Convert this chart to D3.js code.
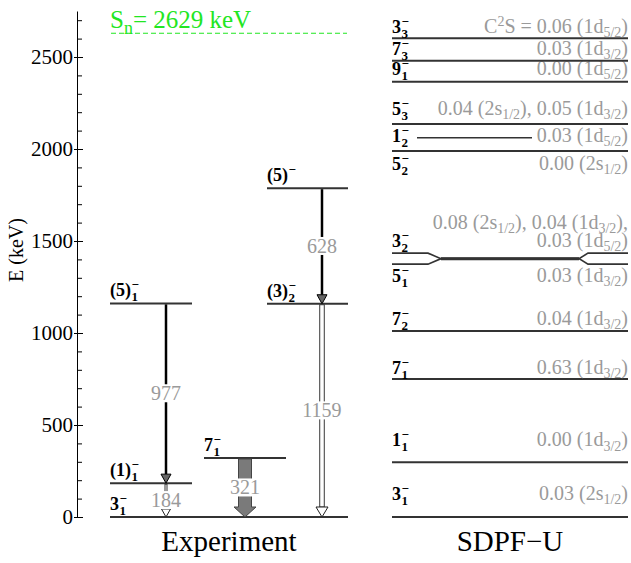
<!DOCTYPE html>
<html><head><meta charset="utf-8">
<script src="https://cdn.jsdelivr.net/npm/d3@7"></script>
<style>
body{margin:0;background:#fff}
svg{display:block}
text{font-family:"Liberation Serif","Times New Roman",serif}
</style>
</head><body>
<svg id="chart" width="631" height="563"></svg>
<script>
// ---------------- data ----------------
const yTickValues = [0, 500, 1000, 1500, 2000, 2500];
const yMinorTickValues = d3.range(0, 2701, 100);
const yAxisTitle = "E (keV)";
const sepEnergy = 2629;
const sepText = "S_{n}= 2629 keV";
const columnTitles = ["Experiment", "SDPF\u2212U"];

const expLevelSpin   = ["3", "(1)", "7", "(5)", "(3)", "(5)"];
const expLevelIdx    = ["1", "1", "1", "1", "2", ""];
const expLevelEnergy = [0, 184, 321, 1161, 1159, 1787];

const gammaEnergy = [977, 184, 321, 628, 1159];
const gammaFrom   = [1161, 184, 321, 1787, 1159];
const gammaTo     = [184, 0, 0, 1159, 0];
const gammaKind   = ["line", "openThin", "fat", "line", "open"];

const thLevelSpin   = ["3", "1", "7", "7", "5", "3", "5", "1", "5", "9", "7", "3"];
const thLevelIdx    = ["1", "1", "1", "2", "1", "2", "2", "2", "3", "1", "3", "3"];
const thLevelEnergy = [0, 297, 750, 1011, 1403, 1405, 1989, 2061, 2136, 2366, 2480, 2602];
const thSpecFactor  = [
  ["0.03 (2s_{1/2})"],
  ["0.00 (1d_{3/2})"],
  ["0.63 (1d_{3/2})"],
  ["0.04 (1d_{3/2})"],
  ["0.03 (1d_{3/2})"],
  ["0.08 (2s_{1/2}), 0.04 (1d_{3/2}),", "0.03 (1d_{5/2})"],
  ["0.00 (2s_{1/2})"],
  ["0.03 (1d_{5/2})"],
  ["0.04 (2s_{1/2}), 0.05 (1d_{3/2})"],
  ["0.00 (1d_{5/2})"],
  ["0.03 (1d_{3/2})"],
  ["C^{2}S = 0.06 (1d_{5/2})"]
];

// ---------------- layout ----------------
const svg = d3.select("#chart");
const y = d3.scaleLinear().domain([0, 2750]).range([517, 11]);
const axisX = 77;
const expX = [[110, 348], [110, 192], [204, 286], [110, 192], [267, 348], [267, 348]];
const gammaX = [166, 166, 245, 322, 322];
const thX0 = 392, thX1 = 628;
const thLabOff = [-17, -16, -5, -6, 18, -6, 19, 4, -9, -7, -6, -5];
const lineColor = "#333";
const grey = "#9a9a9a";
const green = "#22e622";

// ---------------- helpers ----------------
function richText(sel, str, size, subSize, x, dyFirst) {
  const parts = str.split(/(_\{[^}]*\}|\^\{[^}]*\})/).filter(s => s.length);
  let off = 0;
  parts.forEach((p, k) => {
    let target = 0, txt = p, fs = size;
    if (p.startsWith("_{")) { target = subSize * 0.3; txt = p.slice(2, -1); fs = subSize; }
    else if (p.startsWith("^{")) { target = -size * 0.38; txt = p.slice(2, -1); fs = subSize; }
    const ts = sel.append("tspan").attr("dy", target - off + (k === 0 && dyFirst ? dyFirst : 0)).attr("font-size", fs).text(txt);
    if (k === 0 && x !== undefined) ts.attr("x", x);
    off = target;
  });
  return off;
}

function levelLabel(g, x, yb, main, idx) {
  const size = 18, sub = 13;
  const t = g.append("text").attr("x", x).attr("y", yb)
    .attr("font-weight", "bold").attr("font-size", size).attr("fill", "#000");
  const m = t.append("tspan").text(main);
  const w = m.node().getComputedTextLength();
  t.append("tspan").attr("x", x + w + 0.5).attr("dy", -7).attr("font-size", sub).text("\u2212");
  if (idx) t.append("tspan").attr("x", x + w + 0.5).attr("dy", 12).attr("font-size", sub).text(idx);
}

// ---------------- axis ----------------
const axG = svg.append("g").attr("transform", `translate(${axisX},0)`);
axG.call(d3.axisLeft(y).tickValues(yTickValues).tickFormat(d3.format("d")).tickSizeInner(3).tickSizeOuter(0).tickPadding(1))
  .attr("font-family", null)
  .call(g => g.selectAll("text").attr("font-size", 21).attr("font-family", "Liberation Serif").attr("fill", "#000"))
  .call(g => g.selectAll("line,path").attr("stroke", "#000"));
svg.append("g").attr("transform", `translate(${axisX},0)`)
  .call(d3.axisRight(y).tickValues(yTickValues).tickSize(6).tickFormat(""))
  .call(g => g.select(".domain").remove());
svg.append("g").attr("transform", `translate(${axisX},0)`)
  .call(d3.axisRight(y).tickValues(yMinorTickValues.filter(v => !yTickValues.includes(v))).tickSize(5).tickFormat(""))
  .call(g => g.select(".domain").remove());

svg.append("text").attr("transform", `translate(23,250) rotate(-90)`)
  .attr("text-anchor", "middle").attr("font-size", 20).text(yAxisTitle);

// ---------------- separation energy ----------------
svg.append("line").attr("x1", 111).attr("x2", 347).attr("y1", y(sepEnergy)).attr("y2", y(sepEnergy))
  .attr("stroke", green).attr("stroke-width", 1.2).attr("stroke-dasharray", "5,3");
richText(svg.append("text").attr("x", 110).attr("y", y(sepEnergy) - 5).attr("fill", green), sepText, 25, 18);

// ---------------- experiment levels ----------------
const expG = svg.append("g");
expLevelEnergy.forEach((e, i) => {
  expG.append("line").attr("x1", expX[i][0]).attr("x2", expX[i][1])
    .attr("y1", y(e)).attr("y2", y(e)).attr("stroke", lineColor).attr("stroke-width", 2);
  levelLabel(expG, expX[i][0], y(e) - 7, expLevelSpin[i], expLevelIdx[i]);
});

// ---------------- gamma transitions ----------------
const gG = svg.append("g");
gammaEnergy.forEach((eg, i) => {
  const x = gammaX[i], y0 = y(gammaFrom[i]) + 1, y1 = y(gammaTo[i]);
  const k = gammaKind[i];
  if (k === "line") {
    const hh = 9, hw = 5;
    gG.append("line").attr("x1", x).attr("x2", x).attr("y1", y0).attr("y2", y1 - hh)
      .attr("stroke", "#000").attr("stroke-width", 2.5);
    gG.append("path").attr("d", `M${x - hw},${y1 - hh}L${x + hw},${y1 - hh}L${x},${y1}Z`)
      .attr("fill", "#666").attr("stroke", "#000").attr("stroke-width", 1);
  } else if (k === "openThin" || k === "open") {
    const bw = k === "open" ? 4.5 : 2, hh = k === "open" ? 10 : 8, hw = k === "open" ? 6 : 4.5;
    gG.append("rect").attr("x", x - bw / 2).attr("y", y0).attr("width", bw).attr("height", y1 - hh - y0)
      .attr("fill", "#fff").attr("stroke", "#222").attr("stroke-width", 0.9);
    gG.append("path").attr("d", `M${x - hw},${y1 - hh}L${x + hw},${y1 - hh}L${x},${y1}Z`)
      .attr("fill", "#fff").attr("stroke", "#222").attr("stroke-width", 1);
  } else {
    const bw = 13, hh = 10, hw = 11;
    gG.append("path").attr("d",
      `M${x - bw / 2},${y0}L${x + bw / 2},${y0}L${x + bw / 2},${y1 - hh}L${x + hw},${y1 - hh}L${x},${y1}L${x - hw},${y1 - hh}L${x - bw / 2},${y1 - hh}Z`)
      .attr("fill", "#7a7a7a").attr("stroke", "#444").attr("stroke-width", 1);
  }
  const ym = (y(gammaFrom[i]) + y(gammaTo[i])) / 2;
  const lg = gG.append("g");
  const r = lg.append("rect").attr("fill", "#fff");
  const t = lg.append("text").attr("x", x).attr("y", ym + 7).attr("text-anchor", "middle")
    .attr("font-size", 20).attr("fill", grey).text(eg);
  const bb = t.node().getBBox();
  r.attr("x", bb.x - 1).attr("y", ym - 9).attr("width", bb.width + 2).attr("height", 18);
});

// ---------------- SDPF-U levels ----------------
const thG = svg.append("g");
const iA = 4, iB = 5; // near-degenerate pair
const yMid = y((thLevelEnergy[iA] + thLevelEnergy[iB]) / 2);
const split = 5.5;
thLevelEnergy.forEach((e, i) => {
  let yl = y(e);
  if (i === iA) yl = yMid + split;
  if (i === iB) yl = yMid - split;
  if (i === iA || i === iB) {
    const pts = [[thX0, yl], [428, yl], [441, yMid], [579, yMid], [588, yl], [thX1, yl]];
    thG.append("path").attr("d", d3.line()(pts)).attr("fill", "none")
      .attr("stroke", lineColor).attr("stroke-width", 1.6);
  } else if (thLevelSpin[i] === "1" && thLevelIdx[i] === "2") {
    thG.append("line").attr("x1", 417).attr("x2", 532).attr("y1", yl).attr("y2", yl)
      .attr("stroke", lineColor).attr("stroke-width", 1.6);
  } else {
    thG.append("line").attr("x1", thX0).attr("x2", thX1).attr("y1", yl).attr("y2", yl)
      .attr("stroke", lineColor).attr("stroke-width", 2);
  }
  const yb = yl + thLabOff[i];
  levelLabel(thG, thX0, yb, thLevelSpin[i], thLevelIdx[i]);
  const lines = thSpecFactor[i];
  const t = thG.append("text").attr("x", thX1).attr("y", yb - (lines.length - 1) * 18)
    .attr("text-anchor", "end").attr("fill", grey);
  let carry = 0;
  lines.forEach((s, j) => {
    const off = richText(t, s, 20, 14, j > 0 ? thX1 : undefined, j > 0 ? 18 - carry : 0);
    carry = off;
  });
});
thG.append("line").attr("x1", 441).attr("x2", 579).attr("y1", yMid).attr("y2", yMid)
  .attr("stroke", lineColor).attr("stroke-width", 3);

// ---------------- column titles ----------------
svg.append("text").attr("x", 229).attr("y", 551).attr("text-anchor", "middle").attr("font-size", 29).text(columnTitles[0]);
svg.append("text").attr("x", 510).attr("y", 551).attr("text-anchor", "middle").attr("font-size", 29).text(columnTitles[1]);
</script>
</body></html>
